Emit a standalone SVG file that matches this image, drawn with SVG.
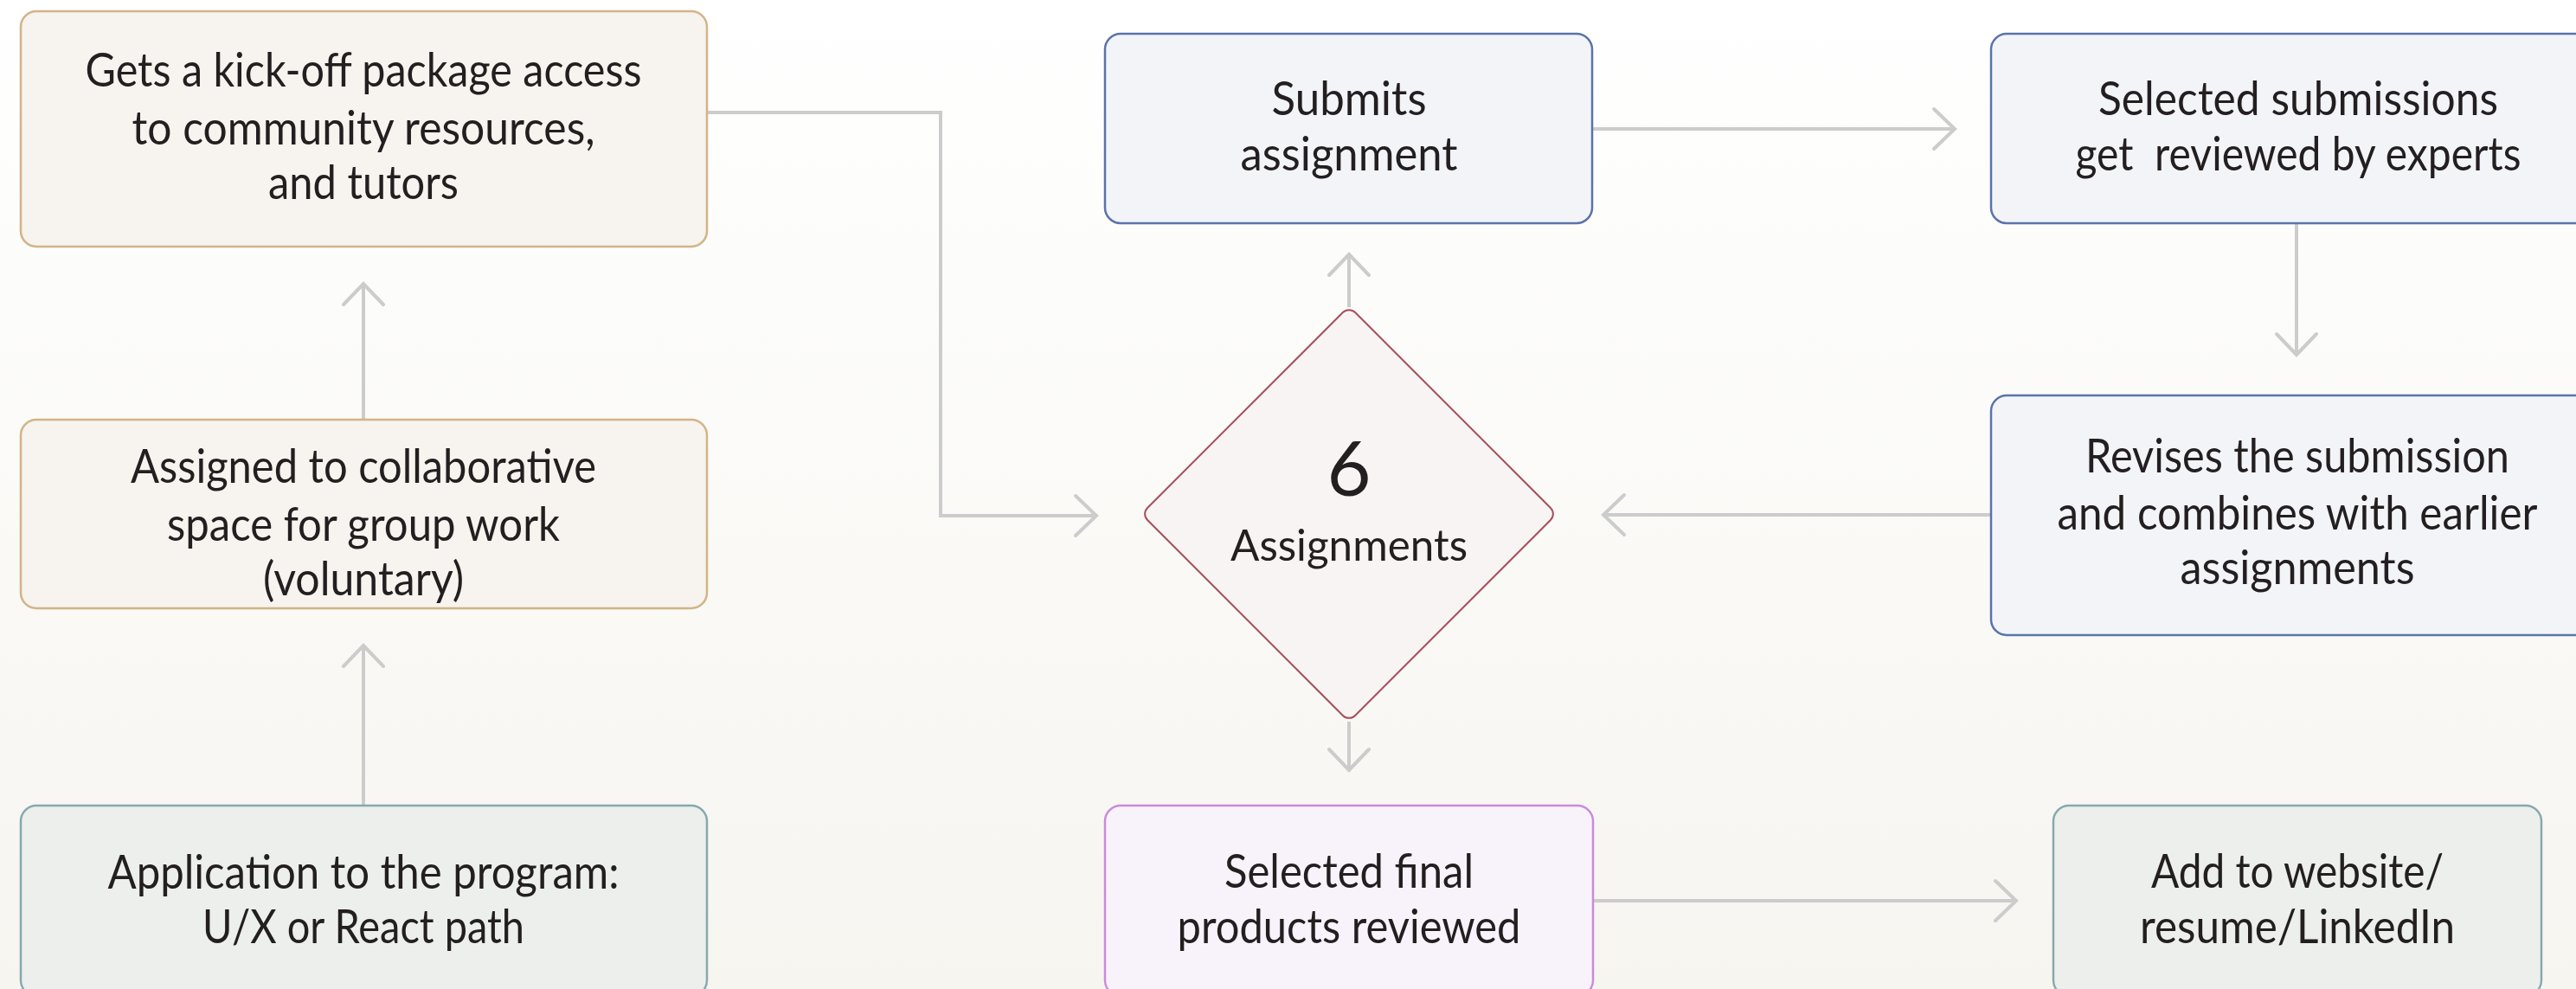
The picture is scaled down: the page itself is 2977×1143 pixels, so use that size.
<svg xmlns="http://www.w3.org/2000/svg" width="2977" height="1143" viewBox="0 0 2977 1143">
<style>
  .lbl { font-family: Lato, "Liberation Sans", sans-serif; font-size: 54px; fill: #231f20; text-anchor: middle; }
  .dlbl { font-family: Lato, "Liberation Sans", sans-serif; font-size: 50px; fill: #231f20; text-anchor: middle; }
  .tan { fill: #f7f3ee; stroke: #d2b487; stroke-width: 2.5; }
  .teal { fill: #ecefec; stroke: #86a9ad; stroke-width: 2.5; }
  .blue { fill: #f3f4f8; stroke: #5a73aa; stroke-width: 2.5; }
  .purp { fill: #f8f3fa; stroke: #c98bdc; stroke-width: 2.5; }
  .dia { fill: #f9f4f4; stroke: #a5505a; stroke-width: 2; }
  .conn { fill: none; stroke: #cccccc; stroke-width: 4; marker-end: url(#chev); }
</style>
<defs>
  <linearGradient id="bg" x1="0" y1="0" x2="0" y2="1">
    <stop offset="0" stop-color="#ffffff"/>
    <stop offset="1" stop-color="#f6f5f0"/>
  </linearGradient>
  <marker id="chev" markerUnits="userSpaceOnUse" viewBox="-30 -30 60 60" markerWidth="60" markerHeight="60" refX="0" refY="0" orient="auto">
    <path d="M-24,-23 L0,0 L-24,23" fill="none" stroke="#cccccc" stroke-width="4" stroke-linecap="round" stroke-linejoin="miter"/>
  </marker>
</defs>
<rect x="0" y="0" width="2977" height="1143" fill="url(#bg)"/>

<g id="connectors">
  <path class="conn" d="M420,931 V746"/>
  <path class="conn" d="M420,485 V328"/>
  <path class="conn" d="M817,130 H1087 V596 H1267"/>
  <path class="conn" d="M1559,355 V294"/>
  <path class="conn" d="M1559,834 V890"/>
  <path class="conn" d="M1840,149 H2259"/>
  <path class="conn" d="M2654,258 V410"/>
  <path class="conn" d="M2301,595 H1853"/>
  <path class="conn" d="M1841,1041 H2330"/>
</g>

<g id="kickoff">
  <rect class="tan" x="24" y="13" width="793" height="272" rx="18"/>
  <text class="lbl" x="420" y="100" textLength="643" lengthAdjust="spacingAndGlyphs">Gets a kick-off package access</text>
  <text class="lbl" x="420" y="167" textLength="535" lengthAdjust="spacingAndGlyphs">to community resources,</text>
  <text class="lbl" x="420" y="230" textLength="220" lengthAdjust="spacingAndGlyphs">and tutors</text>
</g>

<g id="collab">
  <rect class="tan" x="24" y="485" width="793" height="218" rx="18"/>
  <text class="lbl" x="420" y="558" textLength="538" lengthAdjust="spacingAndGlyphs">Assigned to collaborative</text>
  <text class="lbl" x="420" y="625" textLength="454" lengthAdjust="spacingAndGlyphs">space for group work</text>
  <text class="lbl" x="420" y="688" textLength="232" lengthAdjust="spacingAndGlyphs">(voluntary)</text>
</g>

<g id="application">
  <rect class="teal" x="24" y="931" width="793" height="220" rx="18"/>
  <text class="lbl" x="420" y="1027" textLength="591" lengthAdjust="spacingAndGlyphs">Application to the program:</text>
  <text class="lbl" x="420" y="1090" textLength="372" lengthAdjust="spacingAndGlyphs">U/X or React path</text>
</g>

<g id="assignments">
  <rect class="dia" x="-169.7" y="-169.7" width="339.4" height="339.4" rx="10" transform="translate(1559,594) rotate(45)"/>
  <text class="dlbl" x="1559" y="573" style="font-size:88px">6</text>
  <text class="dlbl" x="1559" y="648" textLength="274" lengthAdjust="spacingAndGlyphs">Assignments</text>
</g>

<g id="submits">
  <rect class="blue" x="1277" y="39" width="563" height="219" rx="18"/>
  <text class="lbl" x="1559" y="133" textLength="179" lengthAdjust="spacingAndGlyphs">Submits</text>
  <text class="lbl" x="1559" y="197" textLength="251" lengthAdjust="spacingAndGlyphs">assignment</text>
</g>

<g id="reviewed-experts">
  <rect class="blue" x="2301" y="39" width="710" height="219" rx="18"/>
  <text class="lbl" x="2656" y="133" textLength="462" lengthAdjust="spacingAndGlyphs">Selected submissions</text>
  <text class="lbl" x="2656" y="197" textLength="515" lengthAdjust="spacingAndGlyphs" xml:space="preserve">get  reviewed by experts</text>
</g>

<g id="revises">
  <rect class="blue" x="2301" y="457" width="710" height="277" rx="18"/>
  <text class="lbl" x="2655" y="546" textLength="490" lengthAdjust="spacingAndGlyphs">Revises the submission</text>
  <text class="lbl" x="2655" y="612" textLength="555" lengthAdjust="spacingAndGlyphs">and combines with earlier</text>
  <text class="lbl" x="2655" y="675" textLength="271" lengthAdjust="spacingAndGlyphs">assignments</text>
</g>

<g id="final-reviewed">
  <rect class="purp" x="1277" y="931" width="564" height="220" rx="18"/>
  <text class="lbl" x="1559" y="1026" textLength="288" lengthAdjust="spacingAndGlyphs">Selected final</text>
  <text class="lbl" x="1559" y="1090" textLength="397" lengthAdjust="spacingAndGlyphs">products reviewed</text>
</g>

<g id="add-website">
  <rect class="teal" x="2373" y="931" width="564" height="220" rx="18"/>
  <text class="lbl" x="2655" y="1026" textLength="338" lengthAdjust="spacingAndGlyphs">Add to website/</text>
  <text class="lbl" x="2655" y="1090" textLength="364" lengthAdjust="spacingAndGlyphs">resume/LinkedIn</text>
</g>
</svg>
